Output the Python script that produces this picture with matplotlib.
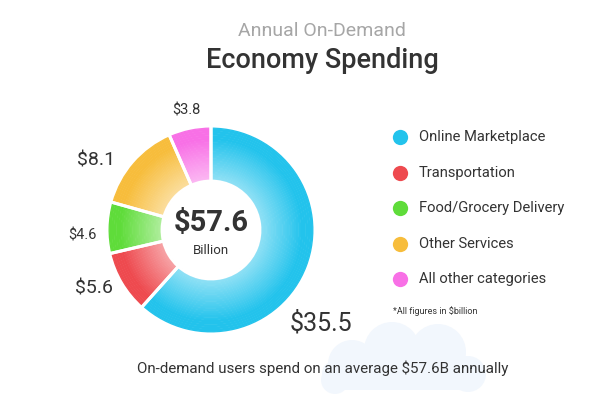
import matplotlib
matplotlib.use("Agg")
import matplotlib.pyplot as plt
import numpy as np
from matplotlib.colors import to_rgb
from matplotlib.patches import Circle, FancyBboxPatch

plt.rcParams['font.family'] = ['Roboto', 'DejaVu Sans']

# ---- data ----
categories = ["Online Marketplace", "Transportation", "Food/Grocery Delivery",
              "Other Services", "All other categories"]
values = [35.5, 5.6, 4.6, 8.1, 3.8]
value_labels = ["$35.5", "$5.6", "$4.6", "$8.1", "$3.8"]
total_label = "$57.6"
colors = ["#23c3ec", "#ee4a4f", "#5fdc3a", "#f7bd3c", "#f870e6"]

title_top = "Annual On-Demand"
title_main = "Economy Spending"
footnote = "*All figures in $billion"
caption = "On-demand users spend on an average $57.6B annually"

W, H = 592, 399
fig = plt.figure(figsize=(W / 100, H / 100), dpi=100)
fig.patch.set_facecolor("white")

# background / text axes in pixel coordinates
bg = fig.add_axes([0, 0, 1, 1])
bg.set_xlim(0, W)
bg.set_ylim(H, 0)
bg.axis("off")
bg.set_zorder(0)

# faint cloud decoration
cloud_col = "#f2f7fd"
for (cx, cy, r) in [(352, 364, 24), (392, 350, 28), (438, 352, 28), (468, 374, 18), (335, 380, 14)]:
    bg.add_patch(Circle((cx, cy), r, color=cloud_col, lw=0, zorder=0))
bg.add_patch(FancyBboxPatch((322, 362), 160, 28, boxstyle="round,pad=0,rounding_size=12",
                            color=cloud_col, lw=0, zorder=0))

bg.text(322, 31, title_top, ha="center", va="center", fontsize=14, color="#a6a6a6")
bg.text(322, 61, title_main, ha="center", va="center", fontsize=19.5, color="#333333",
        fontweight="medium")

# legend
for i, (cat, col) in enumerate(zip(categories, colors)):
    y = 137 + i * 35.5
    bg.plot([400], [y], "o", ms=11, color=col, mec="none")
    bg.text(419, y, cat, ha="left", va="center", fontsize=10.6, color="#333333")
bg.text(393, 311, footnote, ha="left", va="center", fontsize=6.5, color="#333333")

bg.text(323, 368, caption, ha="center", va="center", fontsize=10.9, color="#333333", zorder=3)

# donut axes
cx, cy, R = 211, 230, 104
ax = fig.add_axes([(cx - R) / W, (H - cy - R) / H, 2 * R / W, 2 * R / H])
ax.set_zorder(1)
ax.patch.set_alpha(0)

inner = 0.47
n_rings = 24
edges = np.linspace(inner, 1.0, n_rings + 1)
for k in range(n_rings):
    r_out = edges[k + 1]
    t = (edges[k] - inner) / (1 - inner)
    light = max(0.0, 0.5 * (1 - t / 0.75))
    cols = [tuple(np.array(to_rgb(c)) * (1 - light) + light) for c in colors]
    ax.pie(values, radius=r_out, colors=cols, startangle=90, counterclock=False,
           wedgeprops=dict(width=edges[k + 1] - edges[k] + 0.005, lw=0, antialiased=True))
# white separators
ax.pie(values, radius=1.0, colors=["none"] * len(values), startangle=90, counterclock=False,
       wedgeprops=dict(width=1 - inner, edgecolor="white", lw=2.2, fill=False))
ax.set_xlim(-1, 1)
ax.set_ylim(-1, 1)
ax.axis("off")

# value labels at mid-angles
fracs = np.array(values) / sum(values)
ends = 90 - np.cumsum(fracs) * 360
starts = ends + fracs * 360
mids = (starts + ends) / 2
label_style = [  # (radius factor, angle shift, fontsize, ha)
    (1.17, -29, 18, "left"),
    (1.10, 0, 14, "right"),
    (1.10, 4, 10.5, "right"),
    (1.14, 5, 14, "right"),
    (1.17, 0, 10.5, "center"),
]
for lab, m, (rf, da, fs, ha) in zip(value_labels, mids, label_style):
    a = np.deg2rad(m + da)
    ax.text(rf * np.cos(a), rf * np.sin(a), lab, ha=ha, va="center", fontsize=fs,
            color="#333333", clip_on=False)

ax.text(0, 0.07, total_label, ha="center", va="center", fontsize=21, fontweight="bold",
        color="#333333")
ax.text(0, -0.2, "Billion", ha="center", va="center", fontsize=9.5, color="#333333")

fig.savefig("out.png", dpi=100, facecolor="white")
